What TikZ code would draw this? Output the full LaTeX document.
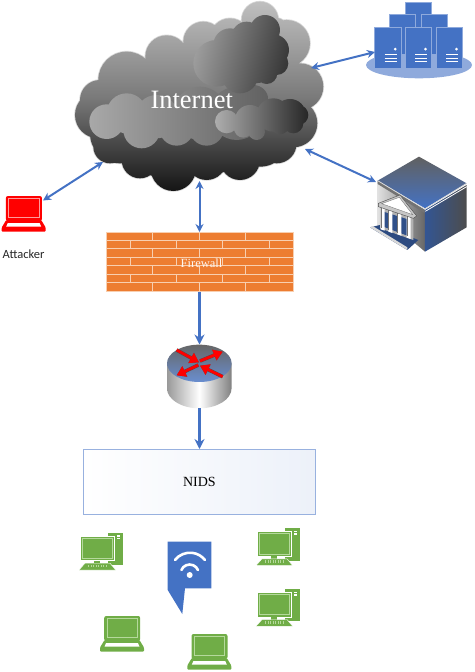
\documentclass[tikz,border=0pt]{standalone}
\usepackage{fontspec}
\setmainfont{Liberation Serif}
\newfontfamily\carl{Carlito}
\usetikzlibrary{arrows.meta}
\definecolor{linkblue}{HTML}{4472C4}
\definecolor{brick}{HTML}{ED7D31}
\definecolor{brickline}{HTML}{F8CFB0}
\definecolor{pcgreen}{HTML}{70AD47}
\definecolor{pcline}{HTML}{B5D99C}
\definecolor{atkred}{HTML}{FF0000}
\definecolor{atkline}{HTML}{FF9A9A}
\tikzset{
  link/.style={linkblue,line width=2pt,{Stealth[length=8pt,width=8pt]}-{Stealth[length=8pt,width=8pt]}},
  oneway/.style={linkblue,line width=2.2pt,-{Stealth[length=10pt,width=10pt]}},
  zoomed/.style 2 args={shift={(#1pt,-#2pt)},x=.3333pt,y=-.3333pt},
  tower/.style={fill=linkblue,draw=linkblue!60!white,line width=.6pt},
}
% laptop: #1 x, #2 y, #3 fill, #4 line
\newcommand\lapicon[4]{%
  \begin{scope}[shift={(#1pt,-#2pt)}]
    \fill[#3,rounded corners=2pt] (4.2,0) rectangle (40.2,25);
    \draw[#4,line width=.7pt] (7,2.8) rectangle (37.3,21.5);
    \fill[#3,rounded corners=1pt] (4.5,24) -- (39.5,24) -- (44,31.5) -- (44,35.7) -- (0,35.7) -- (0,31.5) -- cycle;
    \fill[white] (6,27.2) -- (38,27.2) -- (39.5,30.6) -- (4.5,30.6) -- cycle;
  \end{scope}}
% desktop: #1 x, #2 y
\newcommand\deskicon[2]{%
  \begin{scope}[shift={(#1pt,-#2pt)}]
    \fill[pcgreen] (29.3,0) rectangle (43.7,32.3);
    \fill[white] (38,2.5) rectangle (41,4);
    \fill[white] (38,5) rectangle (41,6.5);
    \fill[pcgreen,draw=white,line width=.7pt] (1.7,3.3) rectangle (35,28);
    \draw[pcline,line width=.7pt] (3.5,5.5) rectangle (33,25.8);
    \fill[pcgreen] (15,28) rectangle (21,31);
    \fill[pcgreen,draw=white,line width=.4pt] (6,30.5) -- (31,30.5) -- (36.7,37.3) -- (0,37.3) -- cycle;
    \foreach \kx in {9,11.5,...,27}{\fill[pcline] (\kx,32) rectangle ++(1.4,2.6);}
  \end{scope}}
% server: #1 x, #2 y, #3 height
\newcommand\srvicon[3]{%
  \fill[tower] (#1pt,-#2pt) rectangle ++(26.4pt,-#3pt);}
\newcommand\srvmarks[2]{%
  \fill[white] (#1pt+20.5pt,-#2pt-21.5pt) circle[radius=1.5pt];
  \foreach \ly in {27,30.3,33.6}{\draw[white,line width=.8pt] (#1pt+10pt,-#2pt-\ly pt) -- ++(12pt,0);}}
\def\mainclouds{(115,345) circle[radius=70] (200,240) circle[radius=85] (320,170) circle[radius=64]
 (430,125) circle[radius=60] (510,115) circle[radius=60] (600,60) circle[radius=55] (680,130) circle[radius=70]
 (720,260) circle[radius=70] (700,370) circle[radius=72] (650,430) circle[radius=60] (540,480) circle[radius=60]
 (440,480) circle[radius=60] (340,505) circle[radius=68] (240,480) circle[radius=55] (150,440) circle[radius=50]
 (250,350) circle[radius=130] (400,320) circle[radius=180] (560,310) circle[radius=170] (590,180) circle[radius=90]
 (300,420) circle[radius=110] (450,425) circle[radius=100] (600,410) circle[radius=90] (180,400) circle[radius=90]
 (120,300) circle[radius=60] (630,130) circle[radius=80]}
\begin{document}
\begin{tikzpicture}[x=1pt,y=-1pt]
\useasboundingbox (0,0) rectangle (474,672);
% ---- cloud
\begin{scope}[zoomed={60}{0}]
  \path[draw=black!15,line width=1.6pt] \mainclouds;
  \shade[top color=black!25,bottom color=black!92,middle color=black!52] \mainclouds;
  \shade[left color=black!34,right color=black!62]
    (140,365) circle[radius=52] (200,340) circle[radius=60] (245,390) circle[radius=55] (290,350) circle[radius=65]
    (350,385) circle[radius=52] (440,385) circle[radius=52] (420,340) circle[radius=80] (530,340) circle[radius=80] (580,300) circle[radius=45];
  \shade[left color=black!38,right color=black!78,shading angle=75]
    (470,190) circle[radius=70] (510,135) circle[radius=50] (560,110) circle[radius=45] (615,90) circle[radius=45]
    (640,150) circle[radius=47] (650,190) circle[radius=35] (620,220) circle[radius=32] (540,225) circle[radius=55] (585,180) circle[radius=70];
  \shade[left color=black!32,right color=black!85]
    (500,365) circle[radius=35] (570,360) circle[radius=45] (550,385) circle[radius=28] (590,395) circle[radius=25]
    (640,345) circle[radius=50] (690,345) circle[radius=48] (715,345) circle[radius=30] (700,370) circle[radius=30] (660,375) circle[radius=28];
\end{scope}
\node[text=white,font=\fontsize{26.5}{30}\selectfont,inner sep=0pt] (internet) at (191.7,99.5) {Internet};
\coordinate (cloudW) at (103,162);
\coordinate (cloudS) at (199.5,181);
\coordinate (cloudNE) at (311,68);
\coordinate (cloudSE) at (305,149);
% ---- servers
\fill[linkblue!60!white] (419,65) ellipse[x radius=53,y radius=13.3];
\srvicon{405.3}{2.7}{30}
\srvicon{389.3}{14}{40}
\srvicon{421}{14}{40}
\srvicon{374.7}{27.7}{40.6}
\srvicon{405.3}{27.7}{40.6}
\srvicon{436}{27.7}{40.6}
\srvmarks{374.7}{27.7}
\srvmarks{405}{27.7}
\srvmarks{436}{27.7}
\coordinate (servers) at (375,52);
% ---- bank
\begin{scope}[zoomed={350}{140}]
  \shade[left color=black!12,right color=black!60] (83,122) -- (225,210) -- (225,335) -- (195,310) -- (83,262) -- cycle;
  \fill[black!55] (83,122) -- (225,210) -- (225,220) -- (83,132) -- cycle;
  \shade[left color=linkblue!75!black,right color=black!70] (225,210) -- (350,135) -- (350,262) -- (225,335) -- cycle;
  \shade[top color=black!62,bottom color=linkblue] (83,122) -- (207,50) -- (350,130) -- (225,205) -- cycle;
  \draw[white!85!black,line width=.8pt] (83,122) -- (225,207) -- (350,130);
  \draw[white,line width=.8pt] (226,214) -- (350,140);
  % steps
  \fill[linkblue!65!black] (60,262) -- (90,255) -- (205,300) -- (172,330) -- cycle;
  \fill[black!15] (60,262) -- (172,330) -- (172,322) -- (68,258) -- cycle;
  % columns
  \fill[black!30] (90,200) -- (190,225) -- (190,300) -- (90,265) -- cycle;
  \fill[linkblue!70!black] (100,215) -- (180,240) -- (180,290) -- (100,260) -- cycle;
  \foreach \cx/\cy in {92/200,115/207,142/215,170/225}
    {\fill[white] (\cx,\cy) -- ++(12,4) -- ++(0,68) -- ++(-12,-4) -- cycle;
     \draw[black!55,line width=.3pt] (\cx,\cy) -- ++(0,64);}
  % pediment
  \fill[black!22,draw=black!70,line width=.4pt] (85,190) -- (150,165) -- (200,228) -- (190,235) -- (85,200) -- cycle;
  \fill[white,draw=black!60,line width=.3pt] (95,191) -- (148,172) -- (188,224) -- cycle;
\end{scope}
\coordinate (bank) at (376,182);
% ---- attacker
\lapicon{1.7}{196}{atkred}{atkline}
\coordinate (attacker) at (43,200.5);
\node[font=\carl\fontsize{12.5}{14}\selectfont,text=black!85,inner sep=0pt] (atklabel) at (23.5,254.5) {Attacker};
% ---- firewall
\node[fill=brick,draw=brickline,line width=.5pt,minimum width=187pt,minimum height=59pt,inner sep=0pt,anchor=north west] (fw) at (106,232) {};
\foreach \row in {1,...,6}{\draw[brickline,line width=.9pt] (106,232+\row*8.43) -- (293,232+\row*8.43);}
\foreach \row in {0,2,4,6}{\foreach \bx in {152.7,199.3,245.7}{\draw[brickline,line width=.9pt] (\bx,232+\row*8.43) -- ++(0,8.43);}}
\foreach \row in {1,3,5}{\foreach \bx in {130,176,222.7,269}{\draw[brickline,line width=.9pt] (\bx,232+\row*8.43) -- ++(0,8.43);}}
\node[text=white!92!brick,font=\fontsize{12.5}{14}\selectfont,inner sep=0pt] (fwlabel) at (201.5,263.5) {Firewall};
% ---- router
\begin{scope}[zoomed={150}{300}]
  \shade[left color=black!40,right color=black!50,middle color=white] (51,190) -- (51,265) arc[start angle=180,end angle=360,x radius=32.3pt,y radius=20pt] -- (245,190) -- cycle;
  \shade[top color=black!60,bottom color=linkblue!80!white] (148,190) ellipse[x radius=97,y radius=56];
  \foreach \c/\w in {black!70/3.6pt,atkred/2.8pt}{
  \draw[\c,line width=\w,-{Triangle[length=9pt,width=11pt]}] (80,150) -- (147,187);
  \draw[\c,line width=\w,-{Triangle[length=9pt,width=11pt]}] (150,183) -- (218,155);
  \draw[\c,line width=\w,-{Triangle[length=9pt,width=11pt]}] (145,195) -- (80,226);
  \draw[\c,line width=\w,-{Triangle[length=9pt,width=11pt]}] (218,230) -- (150,197);}
\end{scope}
\coordinate (routerN) at (199.5,344.5);
\coordinate (routerS) at (199.5,408);
% ---- NIDS
\node[left color=white,right color=linkblue!10!white,draw=linkblue!55!white,line width=.7pt,minimum width=232pt,minimum height=65pt,inner sep=0pt,anchor=north west,font=\fontsize{14}{16}\selectfont] (nids) at (83,449) {NIDS};
% ---- connectors
\draw[link] (attacker) -- (cloudW);
\draw[link] (cloudNE) -- (servers);
\draw[link] (cloudSE) -- (bank);
\draw[link] (cloudS |- cloudS) -- (cloudS |- fw.north);
\draw[oneway] (routerN |- fw.south) -- (routerN);
\draw[oneway] (routerS) -- (routerS |- nids.north);
% ---- hosts
\deskicon{79}{532.7}
\deskicon{256}{528.3}
\deskicon{256}{589}
\lapicon{100}{616}{pcgreen}{pcline}
\lapicon{187.3}{634}{pcgreen}{pcline}
% ---- wifi bubble
\fill[linkblue] (167.7,541.7) -- (211.3,541.7) -- (211.3,588.3) -- (185,588.3) -- (182.3,614) -- (167.7,590) -- cycle;
\fill[white] (189.7,575) circle[radius=3pt];
\draw[white,line width=2.6pt,line cap=round] (181.4,570) arc[start angle=157,end angle=23,radius=9pt];
\draw[white,line width=2.6pt,line cap=round] (175,560) arc[start angle=142,end angle=38,radius=19pt];
\end{tikzpicture}
\end{document}
